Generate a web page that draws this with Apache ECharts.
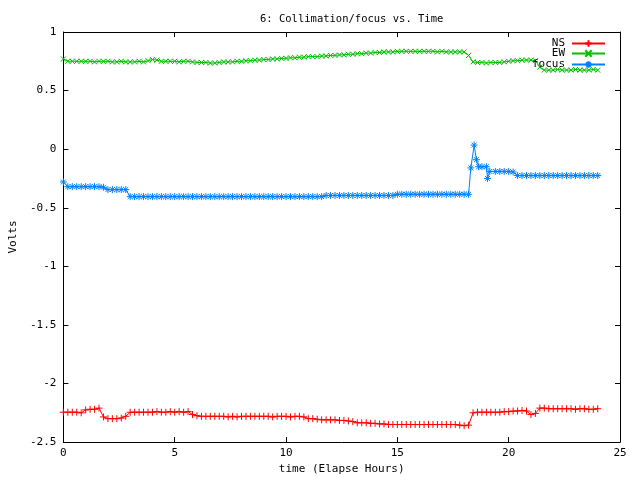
<!DOCTYPE html>
<html><head><meta charset="utf-8">
<script src="https://cdn.jsdelivr.net/npm/echarts@6/dist/echarts.min.js"></script>
<style>html,body{margin:0;padding:0;background:#fff}#c{width:640px;height:480px}</style>
</head><body><div id="c"></div>
<script>
const titleText = "6: Collimation/focus vs. Time";
const xName = "time (Elapse Hours)";
const yName = "Volts";
const seriesNames = ["NS", "EW", "focus"];
const xTicks = [0, 5, 10, 15, 20, 25];
const yTicks = [-2.5, -2, -1.5, -1, -0.5, 0, 0.5, 1];

const hours = [0,0.2,0.4,0.6,0.8,1,1.2,1.4,1.6,1.8,2,2.2,2.4,2.6,2.8,3,3.2,3.4,3.6,3.8,4,4.2,4.4,4.6,4.8,5,5.2,5.4,5.6,5.8,6,6.2,6.4,6.6,6.8,7,7.2,7.4,7.6,7.8,8,8.2,8.4,8.6,8.8,9,9.2,9.4,9.6,9.8,10,10.2,10.4,10.6,10.8,11,11.2,11.4,11.6,11.8,12,12.2,12.4,12.6,12.8,13,13.2,13.4,13.6,13.8,14,14.2,14.4,14.6,14.8,15,15.2,15.4,15.6,15.8,16,16.2,16.4,16.6,16.8,17,17.2,17.4,17.6,17.8,18,18.2,18.4,18.6,18.8,19,19.2,19.4,19.6,19.8,20,20.2,20.4,20.6,20.8,21,21.2,21.4,21.6,21.8,22,22.2,22.4,22.6,22.8,23,23.2,23.4,23.6,23.8,24];

const ns = [
-2.245,-2.245,-2.245,-2.245,-2.25,-2.225,-2.22,-2.22,-2.21,-2.285,
-2.30,-2.30,-2.30,-2.295,-2.28,-2.245,-2.245,-2.245,-2.245,-2.245,
-2.245,-2.24,-2.245,-2.245,-2.24,-2.245,-2.24,-2.245,-2.24,-2.265,
-2.275,-2.28,-2.28,-2.28,-2.28,-2.28,-2.28,-2.285,-2.28,-2.285,
-2.28,-2.28,-2.28,-2.28,-2.28,-2.28,-2.28,-2.285,-2.28,-2.28,
-2.28,-2.285,-2.28,-2.28,-2.285,-2.30,-2.30,-2.305,-2.31,-2.31,
-2.31,-2.31,-2.315,-2.315,-2.32,-2.325,-2.335,-2.335,-2.335,-2.34,
-2.34,-2.345,-2.345,-2.35,-2.35,-2.35,-2.35,-2.35,-2.35,-2.35,
-2.35,-2.35,-2.35,-2.35,-2.35,-2.35,-2.35,-2.35,-2.35,-2.355,
-2.36,-2.355,-2.25,-2.245,-2.245,-2.245,-2.245,-2.245,-2.245,-2.24,
-2.24,-2.235,-2.235,-2.23,-2.235,-2.265,-2.255,-2.21,-2.21,-2.215,
-2.215,-2.215,-2.215,-2.215,-2.215,-2.22,-2.215,-2.215,-2.22,-2.22,-2.215];

const ew = [
0.77,0.75,0.75,0.75,0.75,0.75,0.75,0.745,0.75,0.75,
0.75,0.745,0.745,0.75,0.745,0.745,0.745,0.75,0.745,0.755,
0.765,0.76,0.75,0.75,0.75,0.75,0.745,0.75,0.75,0.745,
0.74,0.74,0.74,0.735,0.735,0.74,0.745,0.745,0.745,0.75,
0.75,0.755,0.755,0.76,0.76,0.765,0.765,0.77,0.77,0.775,
0.775,0.78,0.78,0.785,0.785,0.79,0.79,0.79,0.795,0.795,
0.80,0.80,0.805,0.805,0.81,0.81,0.815,0.815,0.82,0.82,
0.825,0.825,0.83,0.83,0.83,0.835,0.835,0.835,0.835,0.835,
0.835,0.835,0.835,0.835,0.83,0.835,0.83,0.83,0.83,0.83,
0.83,0.80,0.745,0.74,0.74,0.735,0.74,0.74,0.74,0.745,
0.75,0.755,0.755,0.76,0.76,0.76,0.755,0.70,0.675,0.675,
0.675,0.68,0.675,0.675,0.675,0.68,0.675,0.675,0.675,0.68,0.675];

const focusHours = [0,0.2,0.4,0.6,0.8,1,1.2,1.4,1.6,1.8,2,2.2,2.4,2.6,2.8,3,3.2,3.4,3.6,3.8,4,4.2,4.4,4.6,4.8,5,5.2,5.4,5.6,5.8,6,6.2,6.4,6.6,6.8,7,7.2,7.4,7.6,7.8,8,8.2,8.4,8.6,8.8,9,9.2,9.4,9.6,9.8,10,10.2,10.4,10.6,10.8,11,11.2,11.4,11.6,11.8,12,12.2,12.4,12.6,12.8,13,13.2,13.4,13.6,13.8,14,14.2,14.4,14.6,14.8,15,15.2,15.4,15.6,15.8,16,16.2,16.4,16.6,16.8,17,17.2,17.4,17.6,17.8,18,18.2,
18.3,18.45,18.55,18.65,18.8,19.0,19.05,19.15,19.4,19.6,19.8,20.0,20.2,20.4,20.6,20.8,21,21.2,21.4,21.6,21.8,22,22.2,22.4,22.6,22.8,23,23.2,23.4,23.6,23.8,24];

const focus = [
-0.28,-0.32,-0.32,-0.32,-0.32,-0.32,-0.32,-0.32,-0.32,-0.325,
-0.345,-0.345,-0.345,-0.345,-0.345,-0.405,-0.405,-0.405,-0.405,-0.405,
-0.405,-0.405,-0.405,-0.405,-0.405,-0.405,-0.405,-0.405,-0.405,-0.405,
-0.405,-0.405,-0.405,-0.405,-0.405,-0.405,-0.405,-0.405,-0.405,-0.405,
-0.405,-0.405,-0.405,-0.405,-0.405,-0.405,-0.405,-0.405,-0.405,-0.405,
-0.405,-0.405,-0.405,-0.405,-0.405,-0.405,-0.405,-0.405,-0.405,-0.395,
-0.395,-0.395,-0.395,-0.395,-0.395,-0.395,-0.395,-0.395,-0.395,-0.395,
-0.395,-0.395,-0.395,-0.395,-0.395,-0.385,-0.385,-0.385,-0.385,-0.385,
-0.385,-0.385,-0.385,-0.385,-0.385,-0.385,-0.385,-0.385,-0.385,-0.385,
-0.385,-0.385,
-0.16,0.035,-0.09,-0.15,-0.15,-0.15,-0.25,-0.19,-0.19,-0.19,-0.19,-0.19,-0.195,-0.225,-0.225,-0.225,-0.225,-0.225,-0.225,-0.225,-0.225,-0.225,-0.225,-0.225,-0.225,-0.225,-0.225,-0.225,-0.225,-0.225,-0.225,-0.225];

const colors = ["#ff0000", "#00c000", "#0080ff"];
const symbols = [
  "path://M0,5L10,5M5,0L5,10",
  "path://M0,0L10,10M10,0L0,10",
  "path://M0,5L10,5M5,0L5,10M1.5,1.5L8.5,8.5M8.5,1.5L1.5,8.5"
];
const symSizes = [7, 5, 7];
const legendTops = [38, 48, 59];

const FONT = "DejaVu Sans Mono";
const pair = (xs, ys) => xs.map((x, i) => [x, ys[i]]);
const dataSets = [pair(hours, ns), pair(hours, ew), pair(focusHours, focus)];

const chart = echarts.init(document.getElementById("c"), null, {renderer: "canvas"});

const mkAxis = (extra) => Object.assign({
  axisLine: {show: true, onZero: false, lineStyle: {color: "#000", width: 1}},
  axisTick: {show: true, inside: true, length: 5, lineStyle: {color: "#000"}},
  splitLine: {show: false}
}, extra);

chart.setOption({
  animation: false,
  backgroundColor: "#fff",
  title: {
    text: titleText, left: 255, top: 9,
    textStyle: {fontFamily: FONT, fontSize: 10.5, fontWeight: "normal", color: "#000"}
  },
  legend: seriesNames.map((n, k) => ({
    data: [n], orient: "vertical", right: 34, top: legendTops[k], align: "right",
    itemWidth: 33, itemHeight: 8, itemGap: 0, padding: 0,
    textStyle: {fontFamily: FONT, fontSize: 11, color: "#000", padding: [0, 2, 0, 0]}
  })),
  grid: {left: 58, right: 20, top: 32, bottom: 34, containLabel: false},
  xAxis: [
    mkAxis({
      type: "value", position: "bottom", min: xTicks[0], max: xTicks[xTicks.length - 1], interval: 5,
      name: xName, nameLocation: "middle", nameGap: 21,
      nameTextStyle: {fontFamily: FONT, fontSize: 11, color: "#000"},
      axisLabel: {fontFamily: FONT, fontSize: 11, color: "#000", margin: 6}
    }),
    mkAxis({
      type: "value", position: "top", min: xTicks[0], max: xTicks[xTicks.length - 1], interval: 5,
      axisLabel: {show: false}
    })
  ],
  yAxis: [
    mkAxis({
      type: "value", position: "left", min: yTicks[0], max: yTicks[yTicks.length - 1], interval: 0.5,
      name: yName, nameLocation: "middle", nameGap: 44, nameRotate: 90,
      nameTextStyle: {fontFamily: FONT, fontSize: 11, color: "#000"},
      axisLabel: {fontFamily: FONT, fontSize: 11, color: "#000", margin: 7}
    }),
    mkAxis({
      type: "value", position: "right", min: yTicks[0], max: yTicks[yTicks.length - 1], interval: 0.5,
      axisLabel: {show: false}
    })
  ],
  series: seriesNames.map((name, k) => ({
    name: name, type: "line", xAxisIndex: 0, yAxisIndex: 0,
    data: dataSets[k],
    color: colors[k],
    symbol: symbols[k], symbolSize: symSizes[k], showAllSymbol: true,
    itemStyle: {color: "rgba(0,0,0,0)", borderColor: colors[k], borderWidth: 1},
    lineStyle: {color: colors[k], width: 1},
    emphasis: {disabled: true}
  }))
});
</script></body></html>
